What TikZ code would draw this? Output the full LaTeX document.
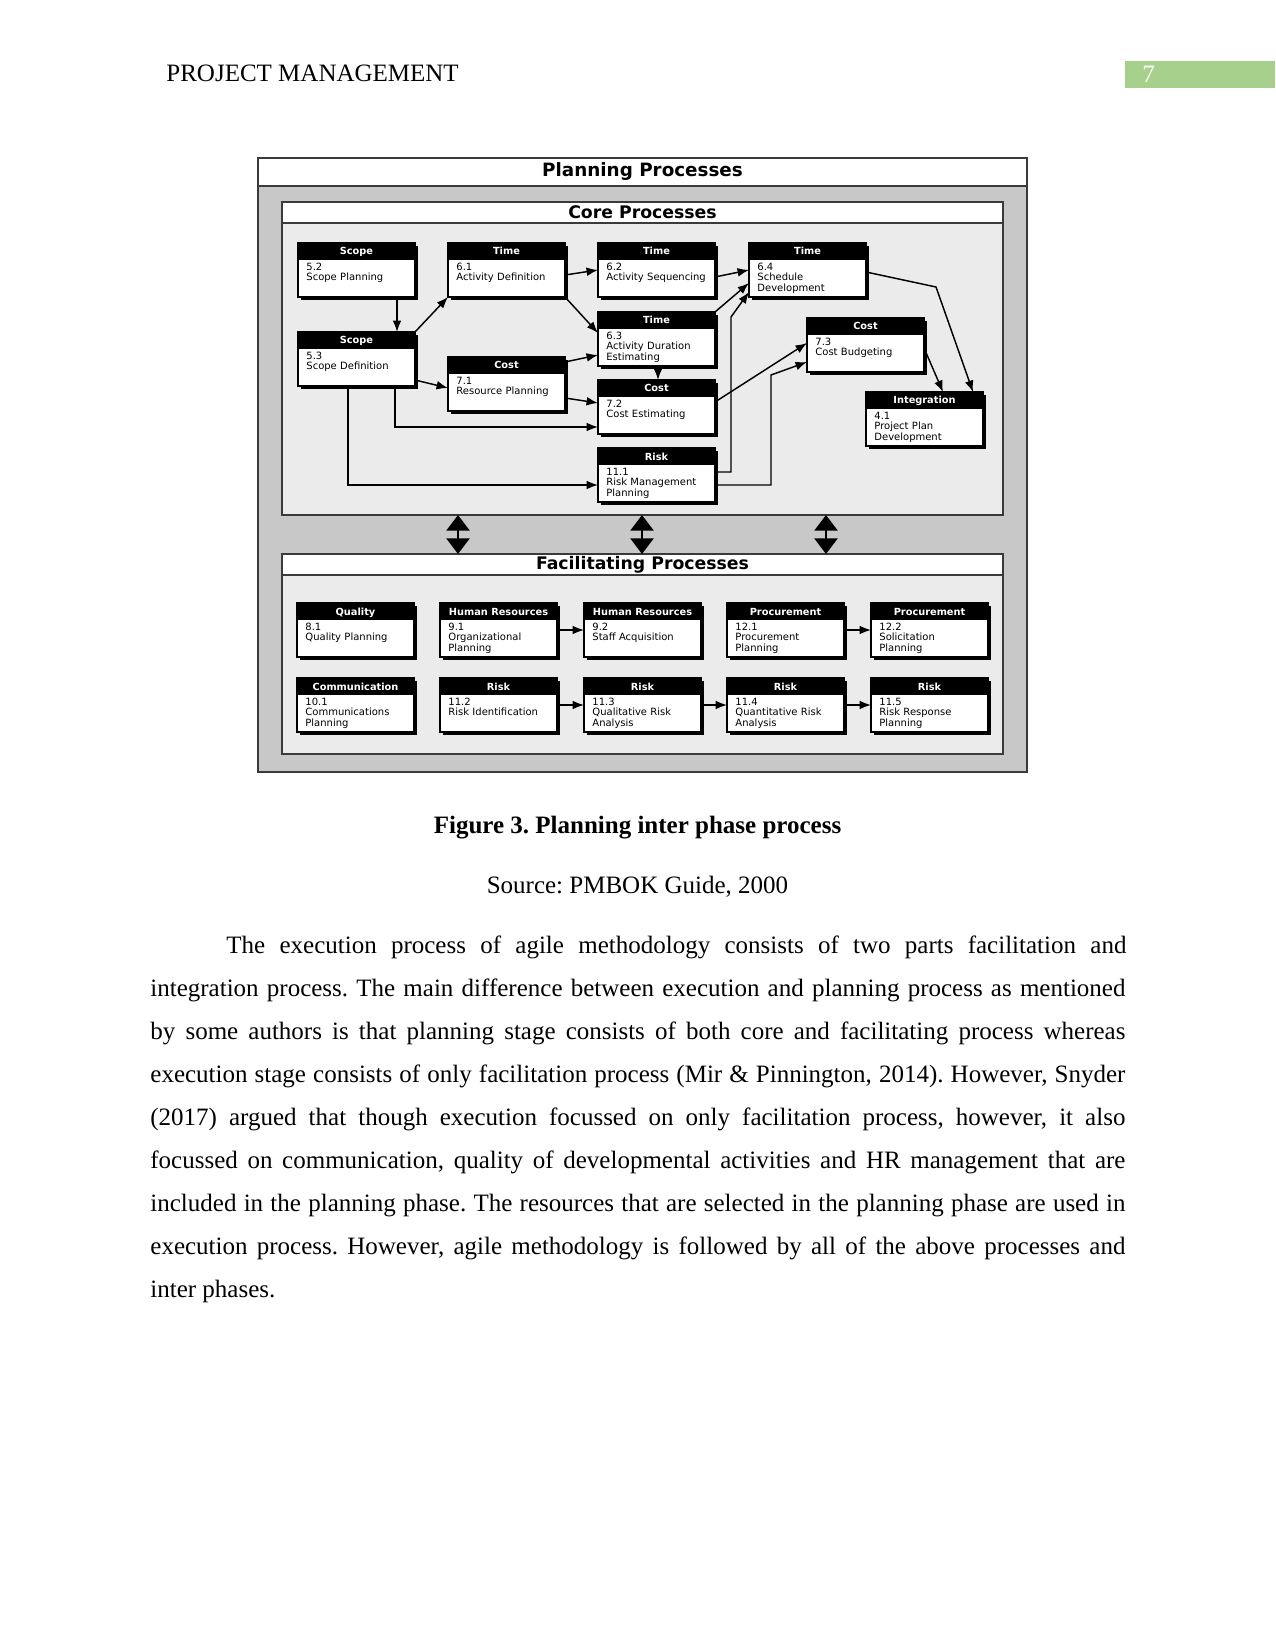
\documentclass[tikz,border=0pt]{standalone}
\usepackage{fontspec}
\setmainfont{Liberation Serif}
\newfontfamily\lsans{Liberation Sans}
\newfontfamily\dsans{DejaVu Sans}
\usetikzlibrary{arrows.meta}
\frenchspacing
\definecolor{outergray}{HTML}{C8C8C8}
\definecolor{innergray}{HTML}{EBEBEB}
\definecolor{framegray}{HTML}{3A3A3A}
\definecolor{pagegreen}{HTML}{A8D08D}
\newcommand\pxu{0.48pt}
\newcommand\procbox[5]{%
  \fill[black] ({#2+3},{#3+3}) rectangle ({#2+120},{#3+57});
  \node[pnode, anchor=north west] (#1) at (#2,#3) {};
  \fill[black] (#1.north west) rectangle ([yshift=-17*\pxu]#1.north east);
  \node[phead, anchor=base] (#1h) at ([yshift=-12*\pxu]#1.north) {#4};
  \node[pbody, anchor=north west] (#1b) at ([xshift=8*\pxu,yshift=-19.5*\pxu]#1.north west) {#5};
}
\tikzset{
  pnode/.style={draw=black, line width=0.6pt, fill=white, minimum width=56.16pt, minimum height=25.92pt, inner sep=0pt, outer sep=0pt},
  phead/.style={text=white, font=\dsans\bfseries\fontsize{4.7}{4.7}\selectfont, inner sep=0pt},
  pbody/.style={font=\dsans\fontsize{4.8}{5}\selectfont, align=left, inner sep=0pt, text width=53pt},
  arr/.style={line width=0.7pt, -{Latex[length=5.5pt,width=4.2pt]}},
  dbl/.style={line width=1.3pt, {Triangle[length=7.5pt,width=11pt]}-{Triangle[length=7.5pt,width=11pt]}},
  panel/.style={draw=framegray, line width=0.8pt, inner sep=0pt, outer sep=0pt},
  titlebar/.style={draw=framegray, line width=0.8pt, fill=white},
  bigtitle/.style={font=\dsans\bfseries\fontsize{8.8}{8.8}\selectfont, inner sep=0pt},
  midtitle/.style={font=\dsans\bfseries\fontsize{8.3}{8.3}\selectfont, inner sep=0pt},
  bodyline/.style={font=\fontsize{12}{14}\selectfont, inner sep=0pt, anchor=base west},
}
\begin{document}
\begin{tikzpicture}[x=0.48pt, y=-0.48pt]
\useasboundingbox (0,0) rectangle (1275,1650);
\fill[white] (0,0) rectangle (1275,1650);

% page header
\node[font=\fontsize{12}{14}\selectfont, inner sep=0pt, anchor=base west] (hdr) at (166,82) {PROJECT MANAGEMENT};
\fill[pagegreen] (1125,61) rectangle (1275,88);
\node[font=\fontsize{12}{14}\selectfont, text=white, inner sep=0pt, anchor=base west] (pgno) at (1142,83) {7};

% outer panel
\node[panel, fill=outergray, minimum width=369.12pt, minimum height=294.72pt] (outer) at (642.5,465) {};
\draw[titlebar] (258,158) rectangle (1027,186);
\node[bigtitle] (ptitle) at (642.5,172) {Planning Processes};

% core panel
\node[panel, fill=innergray, minimum width=346.08pt, minimum height=150.24pt] (core) at (642.5,358.5) {};
\draw[titlebar] (282,202) rectangle (1003,223);
\node[midtitle] (ctitle) at (642.5,212.5) {Core Processes};

% facilitating panel
\node[panel, fill=innergray, minimum width=346.08pt, minimum height=96pt] (fac) at (642.5,654) {};
\draw[titlebar] (282,554) rectangle (1003,575);
\node[midtitle] (ftitle) at (642.5,564.5) {Facilitating Processes};

% core processes
\procbox{n52}{298}{243}{Scope}{5.2\\Scope Planning}
\procbox{n53}{298}{332}{Scope}{5.3\\Scope Definition}
\procbox{n61}{448}{243}{Time}{6.1\\Activity Definition}
\procbox{n71}{448}{357}{Cost}{7.1\\Resource Planning}
\procbox{n62}{598}{243}{Time}{6.2\\Activity Sequencing}
\procbox{n63}{598}{312}{Time}{6.3\\Activity Duration\\Estimating}
\procbox{n72}{598}{380}{Cost}{7.2\\Cost Estimating}
\procbox{n111}{598}{448}{Risk}{11.1\\Risk Management\\Planning}
\procbox{n64}{749}{243}{Time}{6.4\\Schedule\\Development}
\procbox{n73}{807}{318}{Cost}{7.3\\Cost Budgeting}
\procbox{n41}{866}{392}{Integration}{4.1\\Project Plan\\Development}

% facilitating processes
\procbox{f81}{297}{603}{Quality}{8.1\\Quality Planning}
\procbox{f91}{440}{603}{Human Resources}{9.1\\Organizational\\Planning}
\procbox{f92}{584}{603}{Human Resources}{9.2\\Staff Acquisition}
\procbox{f121}{727}{603}{Procurement}{12.1\\Procurement\\Planning}
\procbox{f122}{871}{603}{Procurement}{12.2\\Solicitation\\Planning}
\procbox{f101}{297}{678}{Communication}{10.1\\Communications\\Planning}
\procbox{f112}{440}{678}{Risk}{11.2\\Risk Identification}
\procbox{f113}{584}{678}{Risk}{11.3\\Qualitative Risk\\Analysis}
\procbox{f114}{727}{678}{Risk}{11.4\\Quantitative Risk\\Analysis}
\procbox{f115}{871}{678}{Risk}{11.5\\Risk Response\\Planning}

% core connectors
\draw[arr] ([xshift=40.5*\pxu]n52.south) -- ([xshift=40.5*\pxu]n53.north);
\draw[arr] (n53.north east) -- (n61.south west);
\draw[arr] ([yshift=-21*\pxu]n53.east) -- ([yshift=-4*\pxu]n71.west);
\draw[arr] ([xshift=38.5*\pxu]n53.south) |- ([yshift=-20*\pxu]n72.west);
\draw[arr] ([xshift=-8.5*\pxu]n53.south) |- ([yshift=-10*\pxu]n111.west);
\draw[arr] ([yshift=-5*\pxu]n61.east) -- (n62.west);
\draw[arr] (n61.south east) -- ([yshift=6*\pxu]n63.west);
\draw[arr] ([yshift=22*\pxu]n71.east) -- ([yshift=-16*\pxu]n63.west);
\draw[arr] ([yshift=-14*\pxu]n71.east) -- ([yshift=4*\pxu]n72.west);
\draw[arr] ([xshift=1.5*\pxu]n63.south) -- ([xshift=1.5*\pxu]n72.north);
\draw[arr] ([yshift=-7*\pxu]n62.east) -- (n64.west);
\draw[arr] (n63.north east) -- ([yshift=-13*\pxu]n64.west);
\draw[arr] ([yshift=3*\pxu]n111.east) -- ++(16,0) -- ++(0,-155) -- ([yshift=-22*\pxu]n64.west);
\draw[arr] ([yshift=5*\pxu]n72.east) -- ([yshift=2*\pxu]n73.west);
\draw[arr] ([yshift=-10*\pxu]n111.east) -- ++(56,0) -- ++(0,-110) -- ([yshift=-17*\pxu]n73.west);
\draw[arr] ([yshift=-2*\pxu]n64.east) -- ++(70,15) -- ([xshift=48.5*\pxu]n41.north);
\draw[arr] ([yshift=-3*\pxu]n73.east) -- ([xshift=18.5*\pxu]n41.north);

% facilitating connectors
\draw[arr] (f91.east) -- (f92.west);
\draw[arr] (f121.east) -- (f122.west);
\draw[arr] (f112.east) -- (f113.west);
\draw[arr] (f113.east) -- (f114.west);
\draw[arr] (f114.east) -- (f115.west);

% double arrows between panels
\draw[dbl] ([xshift=-184.5*\pxu]core.south) -- ([xshift=-184.5*\pxu]fac.north);
\draw[dbl] ([xshift=-0.5*\pxu]core.south) -- ([xshift=-0.5*\pxu]fac.north);
\draw[dbl] ([xshift=183.5*\pxu]core.south) -- ([xshift=183.5*\pxu]fac.north);

% caption
\node[font=\bfseries\fontsize{12}{14}\selectfont, inner sep=0pt, anchor=base] (cap) at (637.5,833) {Figure 3. Planning inter phase process};
\node[font=\fontsize{12}{14}\selectfont, inner sep=0pt, anchor=base] (src) at (637.5,893) {Source: PMBOK Guide, 2000};

% body text
\node[bodyline] (l1) at (226,953) {\makebox[432pt][s]{The execution process of agile methodology consists of two parts facilitation and}};
\node[bodyline] (l2) at (150,996) {\makebox[468pt][s]{integration process. The main difference between execution and planning process as mentioned}};
\node[bodyline] (l3) at (150,1039) {\makebox[468pt][s]{by some authors is that planning stage consists of both core and facilitating process whereas}};
\node[bodyline] (l4) at (150,1082) {\makebox[468pt][s]{execution stage consists of only facilitation process (Mir \& Pinnington, 2014). However, Snyder}};
\node[bodyline] (l5) at (150,1125) {\makebox[468pt][s]{(2017) argued that though execution focussed on only facilitation process, however, it also}};
\node[bodyline] (l6) at (150,1168) {\makebox[468pt][s]{focussed on communication, quality of developmental activities and HR management that are}};
\node[bodyline] (l7) at (150,1211) {\makebox[468pt][s]{included in the planning phase. The resources that are selected in the planning phase are used in}};
\node[bodyline] (l8) at (150,1254) {\makebox[468pt][s]{execution process. However, agile methodology is followed by all of the above processes and}};
\node[bodyline] (l9) at (150,1297) {inter phases.};
\end{tikzpicture}
\end{document}
